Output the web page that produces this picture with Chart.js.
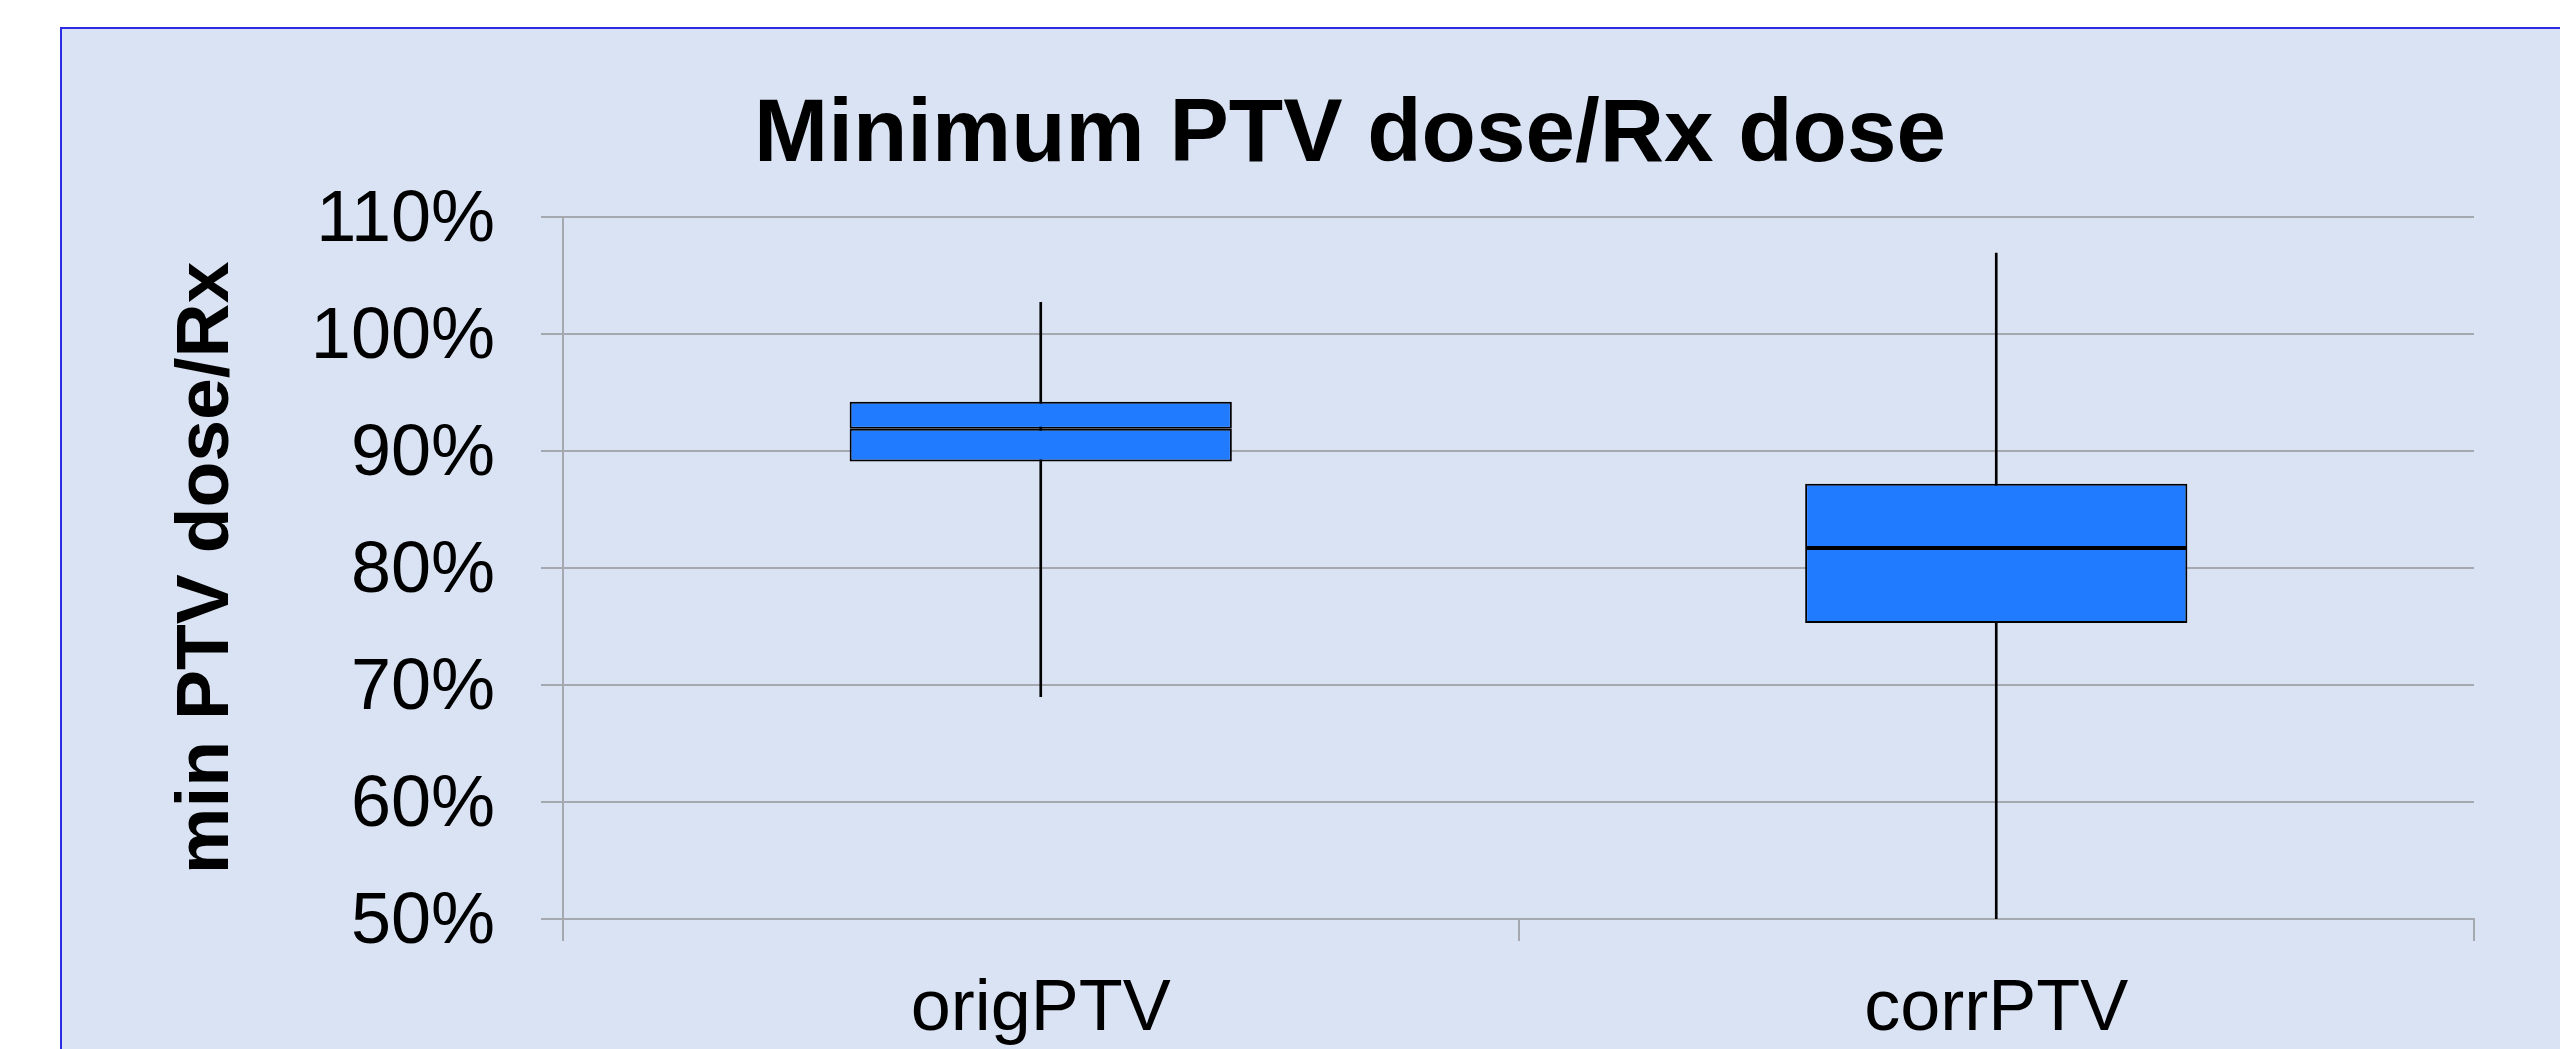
<!DOCTYPE html>
<html>
<head>
<meta charset="utf-8">
<script src="https://cdn.jsdelivr.net/npm/chart.js@4.4.1/dist/chart.umd.min.js"></script>
<style>
  html, body { margin: 0; padding: 0; background: #ffffff; overflow: hidden; }
  #panel {
    position: absolute; left: 60px; top: 27px; width: 2600px; height: 1100px;
    background: #dae3f3;
    border-left: 2px solid #2b2be3; border-top: 2px solid #2b2be3;
  }
  #box-chart { position: absolute; left: 0; top: 0; }
</style>
</head>
<body>
<div id="panel"></div>
<canvas id="box-chart" width="2560" height="1049"></canvas>
<script>
// box plot values (percent of Rx)
const categories = ["origPTV", "corrPTV"];
const whiskerLow = [69.0, 50.0];
const q1 = [89.1, 75.3];
const median = [91.9, 81.7];
const q3 = [94.2, 87.2];
const whiskerHigh = [102.7, 106.9];

const yMin = 50;
const yMax = 110;
const yStep = 10;

const fontFamily = "'Liberation Sans', Arial, sans-serif";
const gridColor = "#a5a8ae";
const boxColor = "#217bff";

function ranges(lo, hi) {
  return lo.map((v, i) => [v, hi[i]]);
}

createBoxChart();

function createBoxChart() {
  const ctx = document.getElementById("box-chart");

  new Chart(ctx, {
    type: "bar",
    data: {
      labels: categories,
      datasets: [
        {
          label: "whisker",
          data: ranges(whiskerLow, whiskerHigh),
          backgroundColor: "#000000",
          borderWidth: 0,
          barThickness: 2,
          grouped: false,
          order: 3,
        },
        {
          label: "lower box",
          data: ranges(q1, median),
          backgroundColor: boxColor,
          borderColor: "#000000",
          borderWidth: 2,
          borderSkipped: false,
          barPercentage: 0.4,
          categoryPercentage: 1,
          grouped: false,
          order: 2,
        },
        {
          label: "upper box",
          data: ranges(median, q3),
          backgroundColor: boxColor,
          borderColor: "#000000",
          borderWidth: 2,
          borderSkipped: false,
          barPercentage: 0.4,
          categoryPercentage: 1,
          grouped: false,
          order: 1,
        },
      ],
    },
    options: {
      responsive: false,
      devicePixelRatio: 1,
      animation: false,
      layout: {
        padding: { left: 226, right: 86, top: 0, bottom: 0 },
      },
      plugins: {
        legend: { display: false },
        tooltip: { enabled: false },
        title: {
          display: true,
          text: "Minimum PTV dose/Rx dose",
          color: "#000000",
          font: { family: fontFamily, size: 89, weight: "bold", lineHeight: 1.2 },
          padding: { top: 83, bottom: 27 },
        },
      },
      scales: {
        x: {
          offset: true,
          grid: {
            offset: true,
            drawOnChartArea: false,
            drawTicks: true,
            tickLength: 22,
            color: gridColor,
            lineWidth: 2,
          },
          border: { display: true, color: gridColor, width: 2 },
          ticks: {
            color: "#000000",
            padding: 26,
            font: { family: fontFamily, size: 72, lineHeight: 1.2 },
          },
          afterFit: (scale) => {
            scale.height = 130;
          },
        },
        y: {
          min: yMin,
          max: yMax,
          title: {
            display: true,
            text: "min PTV dose/Rx",
            color: "#000000",
            font: { family: fontFamily, size: 75, weight: "bold", lineHeight: 1.2 },
            padding: { top: -64, bottom: 0 },
          },
          grid: {
            color: gridColor,
            lineWidth: 2,
            tickLength: 22,
          },
          border: { display: true, color: gridColor, width: 2 },
          ticks: {
            stepSize: yStep,
            color: "#000000",
            padding: 46,
            labelOffset: 4,
            font: { family: fontFamily, size: 72, lineHeight: 1.2 },
            callback: (value) => value + "%",
          },
          afterFit: (scale) => {
            scale.width = 563 - 226;
          },
        },
      },
    },
  });
}
</script>
</body>
</html>
